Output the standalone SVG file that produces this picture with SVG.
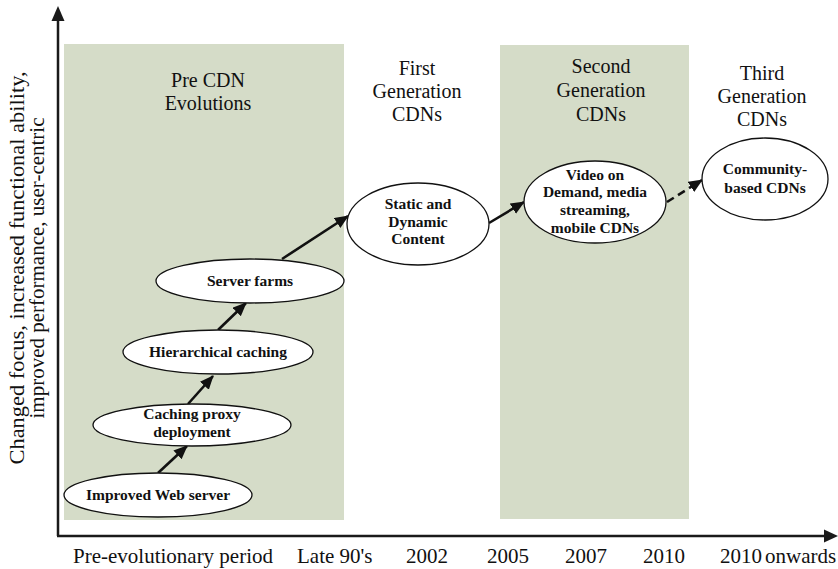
<svg xmlns="http://www.w3.org/2000/svg" width="838" height="569" viewBox="0 0 838 569">
<style>
.band{fill:#d5dcc8}
.t{font-family:"Liberation Serif","Times New Roman",serif;font-size:21px;fill:#111;text-anchor:middle}
.h{font-family:"Liberation Serif","Times New Roman",serif;font-size:20px;fill:#111;text-anchor:middle}
.lab{font-family:"Liberation Serif","Times New Roman",serif;font-size:21px;fill:#111}
.n ellipse{fill:#fff;stroke:#111;stroke-width:1.3}
.n text{font-family:"Liberation Serif","Times New Roman",serif;font-size:15.5px;font-weight:bold;fill:#111;text-anchor:middle}
.ax{stroke:#1a1a1a;stroke-width:2.5;fill:none}
.c{stroke:#111;stroke-width:2.6;fill:none;marker-end:url(#ah)}
.d{stroke-dasharray:8 5}
</style>
<defs>
<marker id="ah" markerUnits="userSpaceOnUse" markerWidth="16" markerHeight="14" refX="13" refY="6" orient="auto">
<path d="M0,0 L14,6 L0,12 z" fill="#111"/>
</marker>
</defs>
<rect class="band" x="64" y="44" width="280" height="476"/>
<rect class="band" x="500" y="45" width="189" height="474"/>
<g id="axes">
<line class="ax" x1="58" y1="536" x2="58" y2="19"/>
<polygon points="58,6 51.5,21 64.5,21" fill="#1a1a1a"/>
<line class="ax" x1="57" y1="536" x2="826" y2="536"/>
<polygon points="838,536 824,529.5 824,542.5" fill="#1a1a1a"/>
</g>
<g id="y-label">
<text class="t" transform="translate(24,268) rotate(-90)" textLength="393" lengthAdjust="spacingAndGlyphs">Changed focus, increased functional ability,</text>
<text class="t" transform="translate(44,268) rotate(-90)">improved performance, user-centric</text>
</g>
<g id="phase-titles">
<text class="h" x="208" y="87">Pre CDN</text>
<text class="h" x="208" y="110">Evolutions</text>
<text class="h" x="417" y="75">First</text>
<text class="h" x="417" y="98">Generation</text>
<text class="h" x="417" y="121">CDNs</text>
<text class="h" x="601" y="73">Second</text>
<text class="h" x="601" y="97">Generation</text>
<text class="h" x="601" y="121">CDNs</text>
<text class="h" x="762" y="80">Third</text>
<text class="h" x="762" y="103">Generation</text>
<text class="h" x="762" y="126">CDNs</text>
</g>
<g id="x-labels">
<text class="lab" x="73" y="563">Pre-evolutionary period</text>
<text class="lab" x="297" y="563">Late 90's</text>
<text class="lab" x="406" y="563">2002</text>
<text class="lab" x="487" y="563">2005</text>
<text class="lab" x="565" y="563">2007</text>
<text class="lab" x="643" y="563">2010</text>
<text class="lab" x="720" y="563">2010</text>
<text class="lab" x="765" y="563">onwards</text>
</g>
<g id="connectors">
<line class="c" x1="158" y1="473" x2="187" y2="446"/>
<line class="c" x1="188" y1="404" x2="213" y2="376"/>
<line class="c" x1="218" y1="330" x2="246" y2="303"/>
<line class="c" x1="282" y1="259" x2="348" y2="216"/>
<line class="c" x1="489" y1="223" x2="524" y2="202"/>
<line class="c d" x1="667" y1="202" x2="702" y2="180"/>
</g>
<g id="improved-web-server" class="n">
<ellipse cx="158" cy="495" rx="94" ry="22"/>
<text x="158" y="500">Improved Web server</text>
</g>
<g id="caching-proxy" class="n">
<ellipse cx="192" cy="425" rx="99" ry="21"/>
<text x="192" y="419">Caching proxy</text>
<text x="192" y="437">deployment</text>
</g>
<g id="hierarchical-caching" class="n">
<ellipse cx="218" cy="352" rx="95" ry="22"/>
<text x="218" y="357">Hierarchical caching</text>
</g>
<g id="server-farms" class="n">
<ellipse cx="250" cy="281" rx="94" ry="22"/>
<text x="250" y="286">Server farms</text>
</g>
<g id="static-dynamic" class="n">
<ellipse cx="418" cy="224" rx="71" ry="41"/>
<text x="418" y="209">Static and</text>
<text x="418" y="227">Dynamic</text>
<text x="418" y="244">Content</text>
</g>
<g id="video-on-demand" class="n">
<ellipse cx="595" cy="202" rx="71" ry="41"/>
<text x="595" y="180">Video on</text>
<text x="595" y="197">Demand, media</text>
<text x="595" y="215">streaming,</text>
<text x="595" y="233">mobile CDNs</text>
</g>
<g id="community-based" class="n">
<ellipse cx="765" cy="179" rx="63" ry="41"/>
<text x="765" y="174">Community-</text>
<text x="765" y="193">based CDNs</text>
</g>
</svg>
